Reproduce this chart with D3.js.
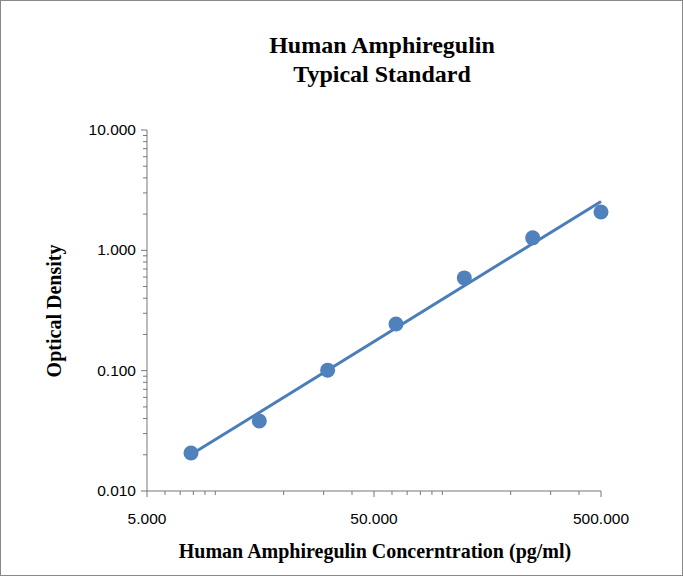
<!DOCTYPE html>
<html><head><meta charset="utf-8">
<script src="https://cdn.jsdelivr.net/npm/d3@7"></script>
<style>body{margin:0;background:#fff}</style></head>
<body><script>
const conc=[7.8125,15.625,31.25,62.5,125,250,500];
const od=[0.0207,0.0382,0.101,0.244,0.59,1.27,2.08];
const xTicks=[5,50,500];
const yTicks=[0.01,0.1,1,10];
const W=683,H=576;
const svg=d3.select("body").append("svg").attr("width",W).attr("height",H);
svg.append("rect").attr("x",0.5).attr("y",0.5).attr("width",W-1).attr("height",H-1).attr("fill","#fff").attr("stroke","#888");
const x=d3.scaleLog().domain([5,500]).range([147,601]);
const y=d3.scaleLog().domain([0.01,10]).range([491,130]);
svg.append("line").attr("x1",147).attr("x2",601).attr("y1",491).attr("y2",491).attr("stroke","#777");
const minors=[];for(const d of [1,10,100])for(let m=1;m<10;m++){const v=m*d;if(v>=5&&v<=500)minors.push(v);}
svg.append("g").selectAll("line").data(minors).join("line").attr("x1",d=>x(d)).attr("x2",d=>x(d)).attr("y1",491).attr("y2",d=>xTicks.includes(d)?497:495).attr("stroke","#777");
svg.append("g").selectAll("text").data(xTicks).join("text").attr("x",d=>x(d)).attr("y",524).attr("text-anchor","middle").attr("font-family","Liberation Sans, Arial").attr("font-size",15.5).text(d=>d3.format(".3f")(d));
svg.append("line").attr("x1",147).attr("x2",147).attr("y1",130).attr("y2",491).attr("stroke","#777");
const yminors=[];for(const d of [0.01,0.1,1])for(let m=1;m<10;m++)yminors.push(m*d);yminors.push(10);
svg.append("g").selectAll("line").data(yminors).join("line").attr("y1",d=>y(d)).attr("y2",d=>y(d)).attr("x1",d=>yTicks.some(t=>Math.abs(t-d)<1e-9)?141:143).attr("x2",147).attr("stroke","#777");
svg.append("g").selectAll("text").data(yTicks).join("text").attr("x",136).attr("y",d=>y(d)+5).attr("text-anchor","end").attr("font-family","Liberation Sans, Arial").attr("font-size",15.5).text(d=>d3.format(".3f")(d));
const lx=conc.map(Math.log10),ly=od.map(Math.log10),n=lx.length;
const mx=d3.mean(lx),my=d3.mean(ly);
const b=d3.sum(lx.map((v,i)=>(v-mx)*(ly[i]-my)))/d3.sum(lx.map(v=>(v-mx)**2));const a=my-b*mx;
const f=c=>Math.pow(10,a+b*Math.log10(c));
svg.append("line").attr("x1",x(conc[0])).attr("y1",y(f(conc[0]))).attr("x2",x(conc[n-1])).attr("y2",y(f(conc[n-1]))).attr("stroke","#4a7ebb").attr("stroke-width",3);
svg.append("g").selectAll("circle").data(conc).join("circle").attr("cx",d=>x(d)).attr("cy",(d,i)=>y(od[i])).attr("r",7.5).attr("fill","#4f81bd");
const serif="Liberation Serif, Times New Roman";
svg.append("text").attr("x",382).attr("y",53).attr("text-anchor","middle").attr("font-family",serif).attr("font-weight","bold").attr("font-size",24).text("Human Amphiregulin");
svg.append("text").attr("x",382).attr("y",82).attr("text-anchor","middle").attr("font-family",serif).attr("font-weight","bold").attr("font-size",24).text("Typical Standard");
svg.append("text").attr("x",375).attr("y",558).attr("text-anchor","middle").attr("font-family",serif).attr("font-weight","bold").attr("font-size",20).text("Human Amphiregulin Concerntration (pg/ml)");
svg.append("text").attr("transform","translate(61,311) rotate(-90)").attr("text-anchor","middle").attr("font-family",serif).attr("font-weight","bold").attr("font-size",20).text("Optical Density");
</script></body></html>
